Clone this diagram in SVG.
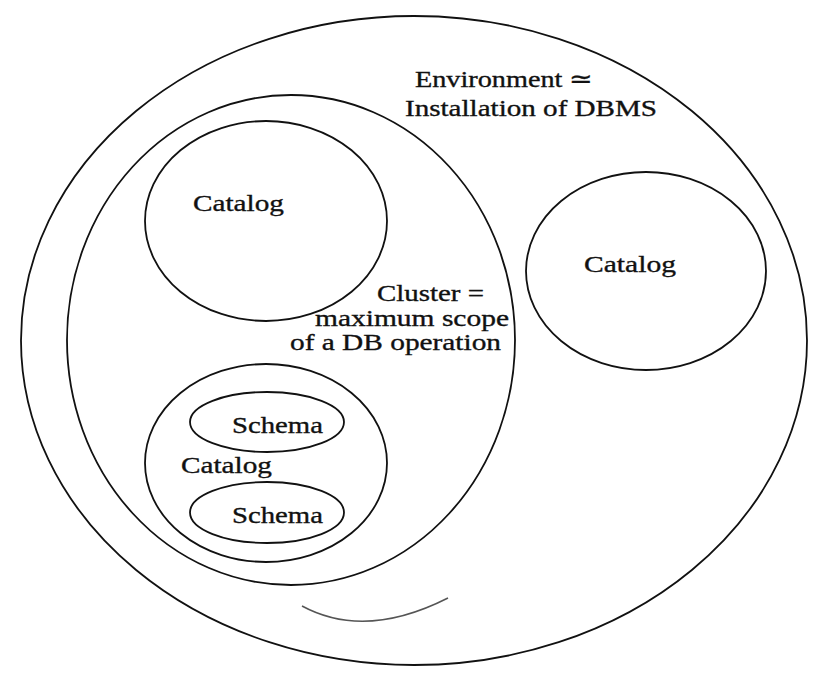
<svg xmlns="http://www.w3.org/2000/svg" width="829" height="682" viewBox="0 0 829 682">
<style>
.ring{fill:none;stroke:#111;stroke-width:1.8}
.lbl{font-family:"Liberation Serif","Times New Roman",serif;font-size:24px;fill:#111;stroke:#111;stroke-width:0.35}
</style>
<rect width="829" height="682" fill="#fff"/>
<g id="environment">
<ellipse class="ring" cx="414" cy="340.5" rx="393" ry="324.5" stroke-width="2.2"/>
<text class="lbl" x="415" y="87" textLength="178" lengthAdjust="spacingAndGlyphs">Environment ≃</text>
<text class="lbl" x="405" y="116" textLength="252" lengthAdjust="spacingAndGlyphs">Installation of DBMS</text>
</g>
<g id="cluster">
<ellipse class="ring" cx="291" cy="340" rx="224" ry="245"/>
<text class="lbl" x="377" y="301" textLength="107" lengthAdjust="spacingAndGlyphs">Cluster =</text>
<text class="lbl" x="315" y="326" textLength="194" lengthAdjust="spacingAndGlyphs">maximum scope</text>
<text class="lbl" x="290" y="350" textLength="211" lengthAdjust="spacingAndGlyphs">of a DB operation</text>
</g>
<g id="catalog-top">
<ellipse class="ring" cx="266" cy="221" rx="121" ry="100"/>
<text class="lbl" x="193" y="211" textLength="91" lengthAdjust="spacingAndGlyphs">Catalog</text>
</g>
<g id="catalog-right">
<ellipse class="ring" cx="646" cy="271" rx="120" ry="99"/>
<text class="lbl" x="584" y="272" textLength="92" lengthAdjust="spacingAndGlyphs">Catalog</text>
</g>
<g id="catalog-bottom">
<ellipse class="ring" cx="266" cy="463" rx="121" ry="99"/>
<text class="lbl" x="181" y="473" textLength="91" lengthAdjust="spacingAndGlyphs">Catalog</text>
</g>
<g id="schema-1">
<ellipse class="ring" cx="267" cy="422" rx="77" ry="30"/>
<text class="lbl" x="232" y="433" textLength="91" lengthAdjust="spacingAndGlyphs">Schema</text>
</g>
<g id="schema-2">
<ellipse class="ring" cx="267" cy="512.5" rx="77" ry="30.5"/>
<text class="lbl" x="232" y="523" textLength="91" lengthAdjust="spacingAndGlyphs">Schema</text>
</g>
<g id="connectors"/>
<path d="M302,606 Q365,640 448,598" fill="none" stroke="#555" stroke-width="1.5"/>
</svg>
